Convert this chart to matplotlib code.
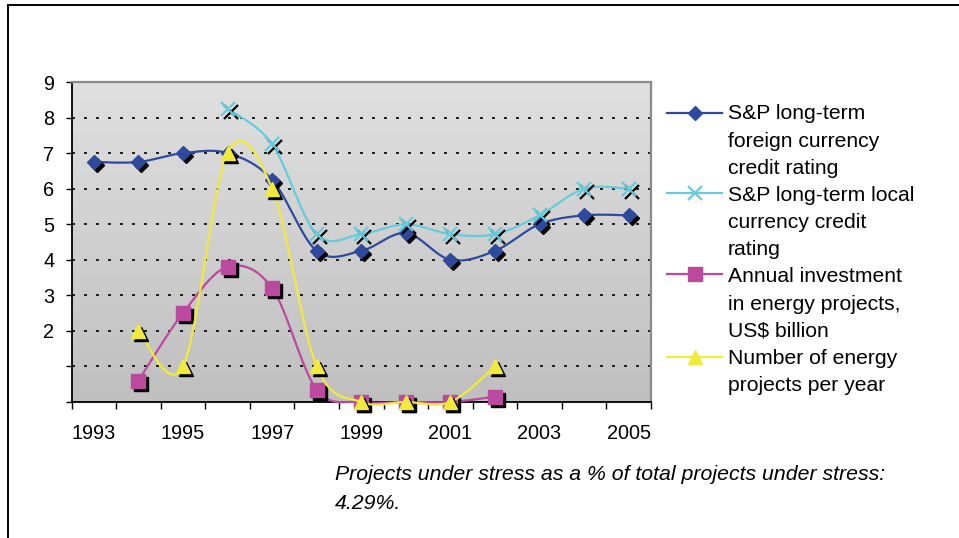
import matplotlib
matplotlib.use("Agg")
import matplotlib.pyplot as plt
import numpy as np
from matplotlib import transforms
from matplotlib.lines import Line2D
from matplotlib.patches import Rectangle
from matplotlib.colors import LinearSegmentedColormap

nan = np.nan
years = [1993, 1994, 1995, 1996, 1997, 1998, 1999, 2000, 2001, 2002, 2003, 2004, 2005]
foreign = [6.75, 6.75, 7.0, 7.0, 6.25, 4.25, 4.25, 4.75, 4.0, 4.25, 5.0, 5.25, 5.25]
local = [nan, nan, nan, 8.25, 7.25, 4.72, 4.72, 5.0, 4.72, 4.72, 5.25, 6.0, 6.0]
investment = [nan, 0.6, 2.5, 3.8, 3.2, 0.35, 0.0, 0.0, 0.0, 0.15, nan, nan, nan]
projects = [nan, 2.0, 1.0, 7.0, 6.0, 1.0, 0.0, 0.0, 0.0, 1.0, nan, nan, nan]

labels = [
    ["S&P long-term", "foreign currency", "credit rating"],
    ["S&P long-term local", "currency credit", "rating"],
    ["Annual investment", "in energy projects,", "US$ billion"],
    ["Number of energy", "projects per year"],
]
yticklabels = ["", "", "2", "3", "4", "5", "6", "7", "8", "9"]
xticklabels = ["1993", "1995", "1997", "1999", "2001", "2003", "2005"]
caption = ["Projects under stress as a % of total projects under stress:", "4.29%."]

colors = ["#2E4A9E", "#66CCDD", "#BB4A9E", "#F2EA3A"]
markers = ["D", "x", "s", "^"]
msizes = [7.6, 9.5, 9.5, 9.8]

W, H = 959, 538
plt.rcParams["font.family"] = ["Liberation Sans", "DejaVu Sans"]

fig = plt.figure(figsize=(W / 100, H / 100), dpi=100)

def fx(px):
    return px / W

def fy(py):
    return 1 - py / H

# outer frame (top and left visible)
fig.patches.append(Rectangle((fx(8), fy(H + 20)), fx(W + 20), (H + 20 - 5) / H,
                             transform=fig.transFigure, fill=False,
                             edgecolor="black", linewidth=1.4))

ax = fig.add_axes([fx(71.5), fy(402), fx(651 - 71.5), (402 - 82) / H])
n = len(years)

# gradient background (light at top, darker at bottom)
grad = np.linspace(0, 1, 256).reshape(-1, 1)
cmap = LinearSegmentedColormap.from_list("g", ["#e0e0e0", "#bfbfbf"])
ax.imshow(grad, extent=[-0.5, n - 0.5, 0, 9], origin="upper", aspect="auto",
          cmap=cmap, zorder=0, interpolation="bilinear")
ax.set_xlim(-0.5, n - 0.5)
ax.set_ylim(0, 9)

for yv in range(1, 10):
    ax.axhline(yv, color="black", linewidth=1.2, linestyle=(0, (1.8, 5.4)), zorder=1)


def smooth(xs, ys, steps=24):
    xs = np.asarray(xs, float)
    ys = np.asarray(ys, float)
    m = ~np.isnan(ys)
    P = np.column_stack([xs[m], ys[m]])
    out = [P[0]]
    k = len(P)
    t = np.linspace(0, 1, steps)[1:, None]
    for i in range(k - 1):
        p0 = P[i - 1] if i > 0 else P[i]
        p1 = P[i]
        p2 = P[i + 1]
        p3 = P[i + 2] if i + 2 < k else P[i + 1]
        c1 = p1 + (p2 - p0) / 6
        c2 = p2 - (p3 - p1) / 6
        seg = ((1 - t) ** 3) * p1 + 3 * ((1 - t) ** 2) * t * c1 + 3 * (1 - t) * t ** 2 * c2 + t ** 3 * p2
        out.extend(seg)
    out = np.array(out)
    return out[:, 0], out[:, 1]


xidx = np.arange(n)
shadow = transforms.offset_copy(ax.transData, fig=fig, x=3, y=-3, units="dots")
series = [foreign, local, investment, projects]
z = 3
for vals, c, mk, ms in zip(series, colors, markers, msizes):
    sx, sy = smooth(xidx, vals)
    ax.plot(sx, sy, color=c, linewidth=1.6, zorder=z, solid_capstyle="round",
            clip_on=False)
    if mk == "x":
        ax.plot(xidx, vals, linestyle="none", marker=mk, markersize=ms,
                markeredgewidth=1.6, color="black", transform=shadow,
                zorder=z + 0.1, clip_on=False)
        ax.plot(xidx, vals, linestyle="none", marker=mk, markersize=ms,
                markeredgewidth=1.6, color=c, zorder=z + 0.2, clip_on=False)
    else:
        ax.plot(xidx, vals, linestyle="none", marker=mk, markersize=ms,
                markerfacecolor="black", markeredgecolor="black",
                transform=shadow, zorder=z + 0.1, clip_on=False)
        ax.plot(xidx, vals, linestyle="none", marker=mk, markersize=ms,
                markerfacecolor=c, markeredgecolor=c, zorder=z + 0.2, clip_on=False)
    z += 1

# spines
for s in ["top", "right"]:
    ax.spines[s].set_color("#8a8a8a")
    ax.spines[s].set_linewidth(1.6)
for s in ["left", "bottom"]:
    ax.spines[s].set_color("black")
    ax.spines[s].set_linewidth(1.3)
    ax.spines[s].set_zorder(2.5)

ax.set_yticks(range(10))
ax.set_yticklabels(yticklabels, fontsize=14.3)
ax.tick_params(axis="y", direction="out", length=4.5, width=1.0, pad=8, colors="black")

ax.set_xticks(np.arange(-0.5, n, 1.0))
ax.set_xticklabels([])
ax.tick_params(axis="x", which="major", direction="out", length=5, width=1.0)
ax.set_xticks(np.arange(0, n, 2), minor=True)
ax.set_xticklabels(xticklabels, minor=True, fontsize=14.3)
ax.tick_params(axis="x", which="minor", length=0, pad=16)

# legend drawn manually (multi-line labels with handle on first line)
handle_y = [112.7, 193.3, 274.3, 356.7]
line_y0 = 119.3
step = 27.2
row = 0
for i, (lab, c, mk, ms) in enumerate(zip(labels, colors, markers, msizes)):
    hy = fy(handle_y[i])
    fig.add_artist(Line2D([fx(667), fx(722)], [hy, hy], color=c, linewidth=1.6,
                          transform=fig.transFigure))
    if mk == "x":
        fig.add_artist(Line2D([fx(694.5)], [hy], marker=mk, markersize=ms,
                              markeredgewidth=1.6, color=c, linestyle="none",
                              transform=fig.transFigure))
    else:
        fig.add_artist(Line2D([fx(694.5)], [hy], marker=mk, markersize=ms,
                              markerfacecolor=c, markeredgecolor=c, linestyle="none",
                              transform=fig.transFigure))
    for txt in lab:
        fig.text(fx(728), fy(line_y0 + step * row), txt, fontsize=15.2,
                 va="baseline", ha="left", color="black")
        row += 1

fig.text(fx(335), fy(480), caption[0], fontsize=15.3, style="italic",
         va="baseline", ha="left")
fig.text(fx(335), fy(509), caption[1], fontsize=15.3, style="italic",
         va="baseline", ha="left")

fig.savefig("out.png", dpi=100, facecolor="white")
